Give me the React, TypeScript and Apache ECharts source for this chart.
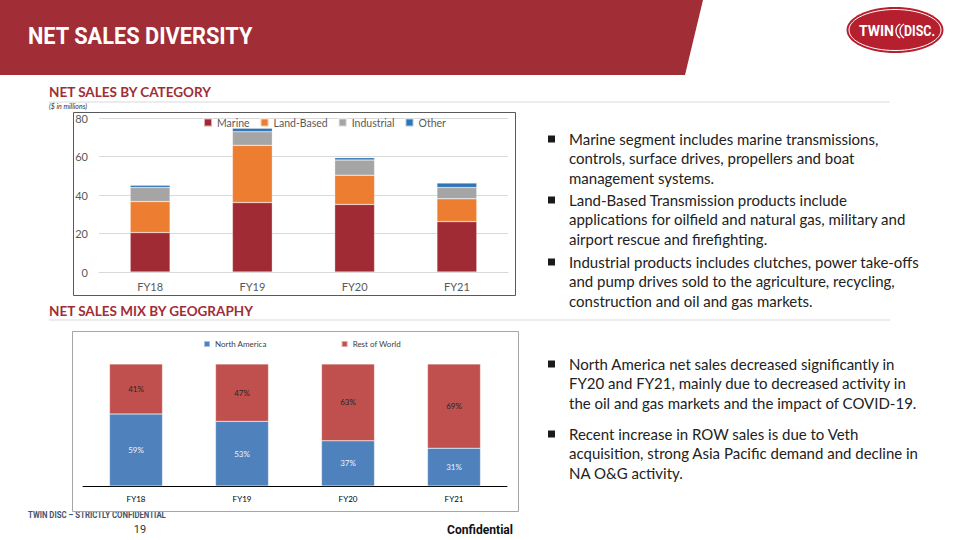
import React, { useEffect, useRef } from "react";
import * as echarts from "echarts";

const categories = ["FY18", "FY19", "FY20", "FY21"];
const marine = [20.5, 36.1, 35.1, 26.2];
const landBased = [16.1, 29.7, 15.2, 11.8];
const industrial = [7.3, 7.1, 7.9, 5.9];
const other = [1.2, 1.8, 1.2, 2.3];
const northAmerica = [59, 53, 37, 31];
const restOfWorld = [41, 47, 63, 69];

const bulletsTop = [
  ["Marine segment includes marine transmissions,", "controls, surface drives, propellers and boat", "management systems."],
  ["Land-Based Transmission products include", "applications for oilfield and natural gas, military and", "airport rescue and firefighting."],
  ["Industrial products includes clutches, power take-offs", "and pump drives sold to the agriculture, recycling,", "construction and oil and gas markets."],
];
const bulletsBottom = [
  ["North America net sales decreased significantly in", "FY20 and FY21, mainly due to decreased activity in", "the oil and gas markets and the impact of COVID-19."],
  ["Recent increase in ROW sales is due to Veth", "acquisition, strong Asia Pacific demand and decline in", "NA O&G activity."],
];

const FONT = "Lato, 'Open Sans', sans-serif";
const COND = "Roboto, 'Liberation Sans', sans-serif";

let measureCtx: CanvasRenderingContext2D | null = null;
function fitScale(text: string, font: string, target: number) {
  if (!measureCtx) measureCtx = document.createElement("canvas").getContext("2d");
  if (!measureCtx) return 1;
  measureCtx.font = font;
  const w = measureCtx.measureText(text).width;
  return w > 0 ? target / w : 1;
}

function fitted(text: string, font: string, x: number, y: number, target: number, fill: string, align = "left") {
  return {
    type: "text", x, y, scaleX: fitScale(text, font, target),
    style: { text, fill, font, textAlign: align, textVerticalAlign: "middle" },
  };
}

function bulletGraphics(blocks: string[][], starts: number[]) {
  const out: any[] = [];
  blocks.forEach((lines, i) => {
    const y0 = starts[i];
    out.push({ type: "rect", shape: { x: 548, y: y0 - 3.5, width: 7, height: 7 }, style: { fill: "#1a1a1a" } });
    lines.forEach((ln, j) => {
      out.push({
        type: "text",
        x: 569,
        y: y0 + j * 19.3,
        style: { text: ln, fill: "#222222", font: `15px ${FONT}`, textVerticalAlign: "middle", textAlign: "left" },
      });
    });
  });
  return out;
}

export default function App() {
  const ref = useRef<HTMLDivElement>(null);
  useEffect(() => {
    if (!ref.current) return;
    const chart = echarts.init(ref.current, undefined, { renderer: "svg" });
    const graphic: any[] = [
      { type: "polygon", shape: { points: [[0, 0], [703, 0], [685, 75], [0, 75]] }, style: { fill: "#a12d36" } },
      fitted("NET SALES DIVERSITY", `bold 24px ${COND}`, 28, 36, 225, "#ffffff"),
      // logo
      { type: "ellipse", shape: { cx: 895, cy: 30, rx: 48.5, ry: 23 }, style: { fill: "#b51f2e" } },
      { type: "ellipse", shape: { cx: 895, cy: 30, rx: 46, ry: 20.5 }, style: { fill: "none", stroke: "#ffffff", lineWidth: 1 } },
      fitted("TWIN", `bold 14px ${COND}`, 894, 31, 35, "#ffffff", "right"),
      { type: "arc", shape: { cx: 904, cy: 31, r: 8, startAngle: Math.PI * 0.66, endAngle: Math.PI * 1.34 }, style: { stroke: "#fff", lineWidth: 1.3, fill: "none" } },
      { type: "arc", shape: { cx: 908, cy: 31, r: 8, startAngle: Math.PI * 0.66, endAngle: Math.PI * 1.34 }, style: { stroke: "#fff", lineWidth: 1.3, fill: "none" } },
      fitted("DISC.", `bold 14px ${COND}`, 904, 31, 31, "#ffffff", "left"),
      // section headings
      { type: "text", x: 49, y: 92, style: { text: "NET SALES BY CATEGORY", fill: "#a12d36", font: `bold 13.5px ${FONT}`, textVerticalAlign: "middle" } },
      { type: "line", shape: { x1: 49, y1: 102, x2: 890, y2: 102 }, style: { stroke: "#d9d9d9", lineWidth: 1 } },
      { type: "text", x: 49, y: 106, style: { text: "($ in millions)", fill: "#333", font: `italic 7px ${FONT}`, textVerticalAlign: "middle" } },
      { type: "text", x: 49, y: 311, style: { text: "NET SALES MIX BY GEOGRAPHY", fill: "#a12d36", font: `bold 13.5px ${FONT}`, textVerticalAlign: "middle" } },
      { type: "line", shape: { x1: 49, y1: 320, x2: 890, y2: 320 }, style: { stroke: "#d9d9d9", lineWidth: 1 } },
      // chart boxes
      { type: "rect", shape: { x: 73.5, y: 112.5, width: 442, height: 183 }, style: { fill: "none", stroke: "#595959", lineWidth: 1 }, z: 10 },
      { type: "rect", shape: { x: 72.5, y: 331.5, width: 446, height: 180 }, style: { fill: "none", stroke: "#a6a6a6", lineWidth: 1 }, z: 10 },
      // footer
      fitted("TWIN DISC – STRICTLY CONFIDENTIAL", `bold 8.5px ${COND}`, 28, 515, 138, "#44546a"),
      { type: "text", x: 140, y: 529, style: { text: "19", fill: "#333", font: `11px ${COND}`, textAlign: "center", textVerticalAlign: "middle" } },
      fitted("Confidential", `bold 13px ${COND}`, 513, 529, 66, "#111111", "right"),
      ...bulletGraphics(bulletsTop, [139, 200, 262]),
      ...bulletGraphics(bulletsBottom, [364, 434]),
    ];

    const topBar = (name: string, data: number[], color: string) => ({
      name, type: "bar", stack: "cat", xAxisIndex: 0, yAxisIndex: 0, data,
      barWidth: "39%",
      itemStyle: { color, borderColor: "rgba(255,255,255,0.6)", borderWidth: 0.5 },
    });

    chart.setOption({
      animation: false,
      textStyle: { fontFamily: FONT },
      graphic,
      legend: [
        {
          data: ["Marine", "Land-Based", "Industrial", "Other"],
          left: 203, top: 117, itemWidth: 8, itemHeight: 8, itemGap: 10, icon: "rect",
          textStyle: { fontSize: 10.5, color: "#595959", fontFamily: FONT }, padding: 0,
        },
        {
          data: ["North America", "Rest of World"],
          left: 203, top: 340, itemWidth: 6, itemHeight: 6, itemGap: 74, icon: "rect",
          textStyle: { fontSize: 8, color: "#404040", fontFamily: FONT }, padding: 0,
        },
      ],
      grid: [
        { left: 99, right: 452, top: 118, bottom: 268 },
        { left: 83, right: 453, top: 364, bottom: 54 },
      ],
      xAxis: [
        {
          type: "category", data: categories, gridIndex: 0,
          axisLine: { lineStyle: { color: "#d9d9d9" } }, axisTick: { show: false },
          axisLabel: { color: "#595959", fontSize: 11, margin: 9 },
        },
        {
          type: "category", data: categories, gridIndex: 1,
          axisLine: { lineStyle: { color: "#000", width: 1 } }, axisTick: { show: false },
          axisLabel: { color: "#000", fontSize: 8, margin: 9 },
        },
      ],
      yAxis: [
        {
          type: "value", gridIndex: 0, min: 0, max: 80, interval: 20,
          axisLine: { show: false }, axisTick: { show: false },
          splitLine: { lineStyle: { color: "#d9d9d9" } },
          axisLabel: { color: "#595959", fontSize: 11, margin: 11 },
        },
        {
          type: "value", gridIndex: 1, min: 0, max: 100, show: false,
          splitLine: { show: false },
        },
      ],
      series: [
        topBar("Marine", marine, "#a02b35"),
        topBar("Land-Based", landBased, "#ed7d31"),
        topBar("Industrial", industrial, "#a5a5a5"),
        topBar("Other", other, "#2e75b6"),
        {
          name: "North America", type: "bar", stack: "geo", xAxisIndex: 1, yAxisIndex: 1, data: northAmerica,
          barWidth: "50%",
          itemStyle: { color: "#4f81bd", borderColor: "rgba(255,255,255,0.5)", borderWidth: 0.5 },
          label: { show: true, position: "inside", formatter: "{c}%", color: "#eef2f8", fontSize: 8 },
        },
        {
          name: "Rest of World", type: "bar", stack: "geo", xAxisIndex: 1, yAxisIndex: 1, data: restOfWorld,
          barWidth: "50%",
          itemStyle: { color: "#c0504d", borderColor: "rgba(255,255,255,0.5)", borderWidth: 0.5 },
          label: { show: true, position: "inside", formatter: "{c}%", color: "#262626", fontSize: 8 },
        },
      ],
    });
    return () => chart.dispose();
  }, []);
  return <div ref={ref} style={{ position: "fixed", left: 0, top: 0, width: 960, height: 540, background: "#fff" }} />;
}
